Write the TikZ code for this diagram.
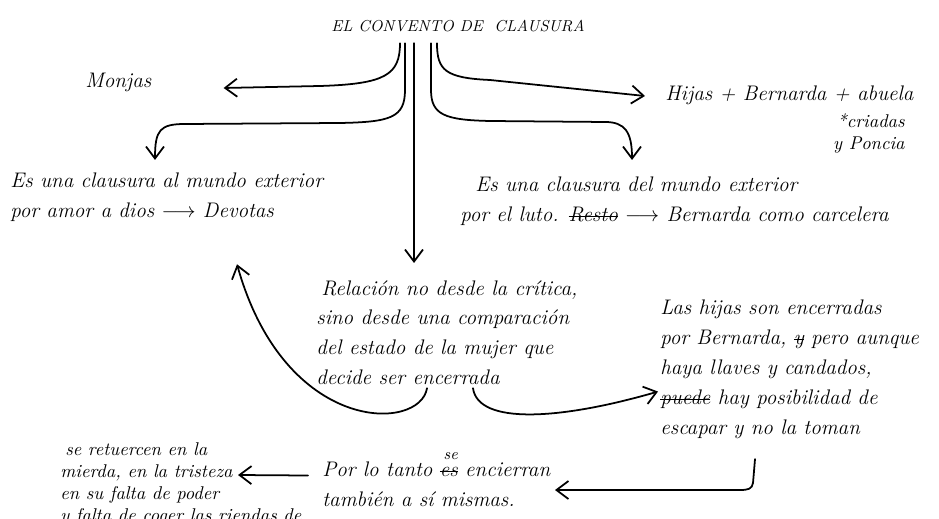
\documentclass[tikz,border=0pt]{standalone}
\usetikzlibrary{arrows.meta,calc}

\newcommand\struck[1]{\setbox0\hbox{#1}\rlap{\rule[0.55ex]{\wd0}{0.6pt}}\box0\relax}

\tikzset{
    hand/.style={line width=1pt, line cap=round, -{Straight Barb[length=2.4mm,width=3.6mm]}},
    txt/.style={align=left, inner sep=0pt, font=\fontsize{12}{17}\selectfont\itshape},
    smalltxt/.style={align=left, inner sep=0pt, font=\fontsize{10.5}{12.5}\selectfont\itshape},
}

\begin{document}
\begin{tikzpicture}[x=0.02cm, y=-0.02cm]
    \useasboundingbox (0,0) rectangle (939,519);

    % Title and first level
    \node[inner sep=0pt, font=\fontsize{9}{11}\selectfont\itshape] (title) at (458,26) {EL CONVENTO DE \ CLAUSURA};
    \node[txt, anchor=west] (monjas) at (85,82) {Monjas};
    \node[txt, anchor=west] (hijas) at (665,95) {Hijas + Bernarda + abuela};
    \node[smalltxt, align=right, anchor=north east] (criadas) at (905,113) {*criadas\\ y Poncia};

    % Second level
    \node[txt, anchor=north west] (devotas) at (10,173) {Es una clausura al mundo exterior\\ por amor a dios $\longrightarrow$ Devotas};
    \node[txt, anchor=north west] (carcelera) at (460,177) {\hspace*{0.3cm}Es una clausura del mundo exterior\\ por el luto. \struck{Resto} $\longrightarrow$ Bernarda como carcelera};
    \node[txt, anchor=north west] (relacion) at (316,280) {\hspace*{0.1cm}Relación no desde la crítica,\\ sino desde una comparación\\ del estado de la mujer que\\ decide ser encerrada};

    % Third level
    \node[txt, anchor=north west] (llaves) at (660,300) {Las hijas son encerradas\\ por Bernarda, \struck{y} pero aunque\\ haya llaves y candados,\\ \struck{puede} hay posibilidad de\\ escapar y no la toman};
    \node[txt, anchor=north west] (mismas) at (322,452) {Por lo tanto \struck{es}\llap{\raisebox{1.9ex}{\small se}} encierran\\ también a sí mismas.};
    \node[smalltxt, anchor=north west] (riendas) at (60,442) {\hspace*{0.1cm}se retuercen en la\\ mierda, en la tristeza\\ en su falta de poder\\ y falta de coger las riendas de};

    % Branches under the title
    \coordinate (b1) at ($(title.south)+(-58,11)$);
    \coordinate (b2) at ($(title.south)+(-53,11)$);
    \coordinate (b3) at ($(title.south)+(-44,11)$);
    \coordinate (b4) at ($(title.south)+(-27,11)$);
    \coordinate (b5) at ($(title.south)+(-21,11)$);

    \draw[hand] (b1) .. controls (400,75) and (385,84) .. (320,86) -- ($(monjas.east)+(72,6)$);
    \draw[hand] (b2) -- (405,90) .. controls (405,118) and (390,122) .. (340,123) -- (185,124)
        .. controls (160,124) and (155,130) .. ($(devotas.north west)+(145,-13)$);
    \draw[hand] (b3) -- ($(b3 |- relacion.north)+(0,-17)$);
    \draw[hand] (b4) -- (431,90) .. controls (431,115) and (445,120) .. (490,121) -- (605,122)
        .. controls (625,122) and (632,132) .. ($(carcelera.north west)+(172,-17)$);
    \draw[hand] (b5) .. controls (437,70) and (445,78) .. (490,80) -- ($(hijas.west)+(-20,1)$);

    % Links between the blocks
    \draw[hand] ($(relacion.south west)+(111,3)$) .. controls (420,432) and (285,435) .. ($(devotas.south west)+(227,42)$);
    \draw[hand] ($(relacion.south west)+(157,3)$) .. controls (478,425) and (560,420) .. ($(llaves.west)+(-2,22)$);
    \draw[hand] ($(llaves.south west)+(95,20)$) -- (753,483) .. controls (752,489) and (748,490) .. (740,490)
        -- ($(mismas.south west)+(233,-17)$);
    \draw[hand] ($(mismas.west)+(-14,-4)$) -- ($(riendas.north west)+(178,33)$);
\end{tikzpicture}
\end{document}
